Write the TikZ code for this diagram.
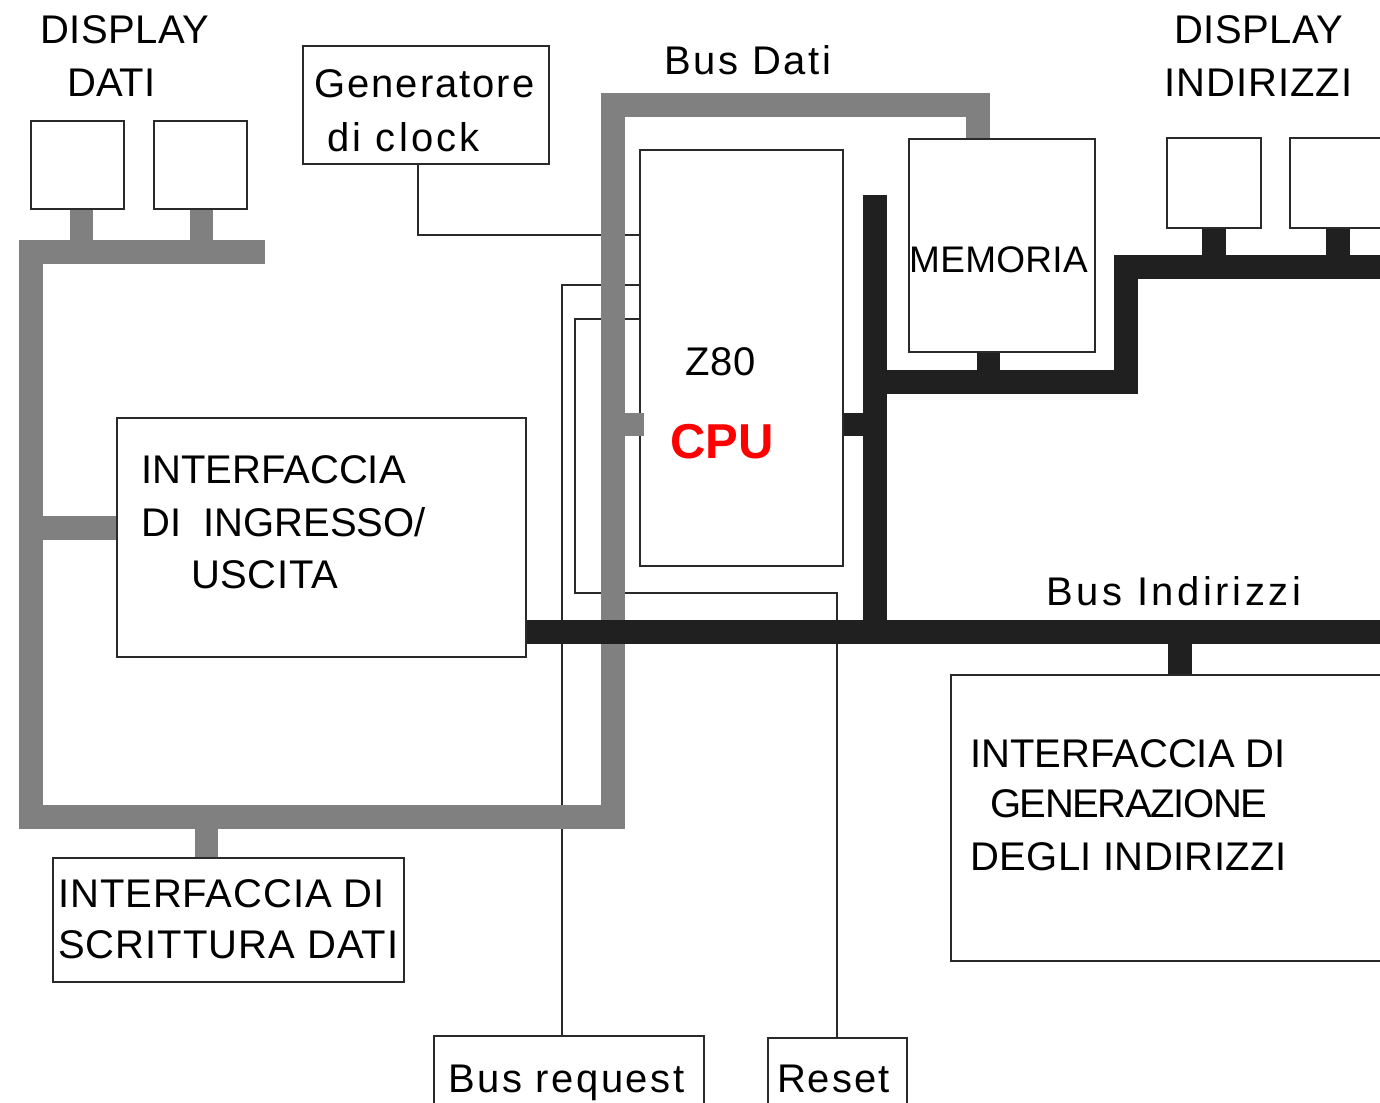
\documentclass[tikz,border=0pt]{standalone}
\usepackage{fontspec}
\setmainfont{Liberation Sans}
\definecolor{busgray}{HTML}{808080}
\definecolor{busblack}{HTML}{202020}
\definecolor{edgec}{HTML}{2A2A2A}
\definecolor{cpured}{HTML}{FF0000}
\tikzset{
  box/.style={draw=edgec, line width=2.5pt, fill=white, rectangle, inner sep=0pt},
  wire/.style={draw=edgec, line width=2pt},
  gbus/.style={draw=busgray, line width=24pt, line cap=butt, line join=miter},
  kbus/.style={draw=busblack, line width=24pt, line cap=butt, line join=miter},
  txt/.style={anchor=base west, inner sep=0pt, font=\fontsize{40}{48}\selectfont},
}
\newcommand{\lsp}[1]{\fontsize{40}{48}\selectfont\addfontfeature{LetterSpace=#1}}
\begin{document}
\begin{tikzpicture}[x=1pt,y=-1pt]
\useasboundingbox (0,0) rectangle (1380,1102);
\clip (0,0) rectangle (1380,1102);
\fill[white] (0,0) rectangle (1380,1102);

% ---------- boxes ----------
\node[box, minimum width=93pt,  minimum height=88pt]  (dd1) at (77.5,165) {};
\node[box, minimum width=93pt,  minimum height=88pt]  (dd2) at (200.5,165) {};
\node[box, minimum width=246pt, minimum height=118pt] (clk) at (426,105) {};
\node[box, minimum width=203pt, minimum height=416pt] (cpu) at (741.5,358) {};
\node[box, minimum width=186pt, minimum height=213pt] (mem) at (1002,245.5) {};
\node[box, minimum width=94pt,  minimum height=90pt]  (da1) at (1214,183) {};
\node[box, minimum width=94pt,  minimum height=90pt]  (da2) at (1337,183) {};
\node[box, minimum width=409pt, minimum height=239pt] (io)  at (321.5,537.5) {};
\node[box, minimum width=351pt, minimum height=124pt] (wr)  at (228.5,920) {};
\node[box, minimum width=449pt, minimum height=286pt] (gen) at (1175.5,818) {};
\node[box, minimum width=270pt, minimum height=84pt]  (breq) at (569,1078) {};
\node[box, minimum width=139pt, minimum height=82pt]  (rst) at (837.5,1079) {};

% ---------- coordinates ----------
\coordinate (ck) at (418,235);
\coordinate (br) at (562,285);
\coordinate (r1) at (575,319);
\coordinate (r2) at (837,593);
\coordinate (g1) at (265,252);
\coordinate (g2) at (30.5,252);
\coordinate (g3) at (30.5,816.5);
\coordinate (g4) at (612.5,816.5);
\coordinate (g5) at (612.5,105);
\coordinate (g6) at (977.5,105);
\coordinate (cs) at (0,424.5);
\coordinate (k1) at (1380,632);
\coordinate (k2) at (875,195);
\coordinate (k3) at (875,632);
\coordinate (k4) at (875,382);
\coordinate (k5) at (1126,382);
\coordinate (k6) at (1126,267);
\coordinate (k7) at (1390,267);

% ---------- thin control lines ----------
\draw[wire] (clk.south -| ck) |- (cpu.west |- ck);
\draw[wire] (cpu.west |- br) -| (breq.north -| br);
\draw[wire] (cpu.west |- r1) -| (r2 -| r1) -- (r2) -- (rst.north -| r2);

% ---------- data bus (gray) ----------
\draw[gbus] (g1) -- (g2) -- (g3) -- (g4) -- (g5) -- (g6) -- (mem.north -| g6);
\draw[gbus, line width=23pt] ([xshift=4pt]dd1.south) -- ([xshift=4pt]dd1.south |- g1);
\draw[gbus, line width=23pt] ([xshift=1pt]dd2.south) -- ([xshift=1pt]dd2.south |- g1);
\draw[gbus] ([yshift=10pt]io.west) -- ([yshift=10pt]io.west -| g2);
\draw[gbus, line width=23pt] ([xshift=-22pt]wr.north) -- ([xshift=-22pt]wr.north |- g3);
\draw[gbus, line width=23pt] ([xshift=5pt]cpu.west |- cs) -- (g5 |- cs);

% ---------- address bus (black) ----------
\draw[kbus] (io.east |- k1) -- (k1);
\draw[kbus] (k2) -- (k3);
\draw[kbus] (k4) -- (k5) -- (k6) -- (k7);
\draw[kbus, line width=23pt] ([xshift=-13.5pt]mem.south) -- ([xshift=-13.5pt]mem.south |- k4);
\draw[kbus] (da1.south) -- (da1.south |- k6);
\draw[kbus] ([xshift=1pt]da2.south) -- ([xshift=1pt]da2.south |- k6);
\draw[kbus] ([xshift=4pt]gen.north) -- ([xshift=4pt]gen.north |- k1);
\draw[kbus, line width=23pt] (cpu.east |- cs) -- (k2 |- cs);

% ---------- texts ----------
\node[txt, font=\lsp{1.2}] (t1) at (40,44) {DISPLAY};
\node[txt] (t2) at (67,97) {DATI};
\node[txt, font=\lsp{1.2}] (t3) at (1174,44) {DISPLAY};
\node[txt, font=\lsp{2.5}] (t4) at (1164,97) {INDIRIZZI};
\node[txt, font=\lsp{5}] (t5) at (314,98) {Generatore};
\node[txt, font=\lsp{8}] (t6) at (327,152) {di clock};
\node[txt, font=\lsp{6.5}] (t7) at (664,75) {Bus Dati};
\node[txt, font=\fontsize{37}{44}\selectfont\addfontfeature{LetterSpace=0.8}] (t8) at (909,272) {MEMORIA};
\node[txt, font=\lsp{2}] (t9) at (685,375) {Z80};
\node[txt, font=\bfseries\fontsize{49}{58}\selectfont, text=cpured] (t10) at (670,458) {CPU};
\node[txt] (t11) at (141,483) {INTERFACCIA};
\node[txt] (t12) at (141,536) {DI\ \ INGRESSO/};
\node[txt, font=\lsp{1.5}] (t13) at (191,588) {USCITA};
\node[txt, font=\lsp{9}] (t14) at (1046,605) {Bus Indirizzi};
\node[txt] (t15) at (970,767) {INTERFACCIA DI};
\node[txt, font=\lsp{-3.5}] (t16) at (990,817) {GENERAZIONE};
\node[txt, font=\lsp{1}] (t17) at (970,870) {DEGLI INDIRIZZI};
\node[txt, font=\lsp{2.3}] (t18) at (58,907) {INTERFACCIA DI};
\node[txt, font=\lsp{2.5}] (t19) at (58,958) {SCRITTURA DATI};
\node[txt, font=\lsp{6.3}] (t20) at (448,1092) {Bus request};
\node[txt, font=\lsp{4.8}] (t21) at (777,1092) {Reset};
\end{tikzpicture}
\end{document}
